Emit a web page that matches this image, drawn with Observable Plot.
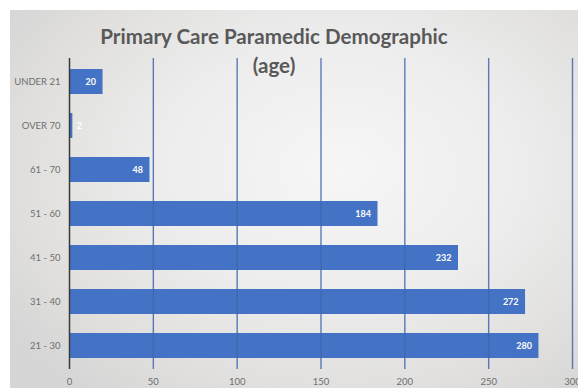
<!DOCTYPE html>
<html>
<head>
<meta charset="utf-8">
<script src="https://cdn.jsdelivr.net/npm/d3@7"></script>
<script src="https://cdn.jsdelivr.net/npm/@observablehq/plot@0.6"></script>
<style>
  html, body { margin: 0; padding: 0; background: #fff; }
  #wrap { position: relative; width: 578px; height: 388px; overflow: hidden; }
  #panel {
    position: absolute; left: 10px; top: 10px; right: 0; bottom: 0;
    background: radial-gradient(ellipse 70% 75% at 58% 42%, #f6f6f6 0%, #ededed 45%, #e0dfdd 80%, #d6d6d6 100%);
  }
  #chart { position: absolute; left: 0; top: 0; }
</style>
</head>
<body>
<div id="wrap"><div id="panel"></div><div id="chart"></div></div>
<script>
// Age groups, top to bottom, and the number of paramedics in each
const ageGroups = ["UNDER 21", "OVER 70", "61 - 70", "51 - 60", "41 - 50", "31 - 40", "21 - 30"];
const counts = [20, 2, 48, 184, 232, 272, 280];
const xTicks = [0, 50, 100, 150, 200, 250, 300];
const gridTicks = [50, 100, 150, 200, 250, 300];
const titleText = "Primary Care Paramedic Demographic\n(age)";

const rows = ageGroups.map((age, i) => ({age, count: counts[i]}));

const chart = Plot.plot({
  width: 578,
  height: 388,
  marginLeft: 69,
  marginRight: 6,
  marginTop: 58,
  marginBottom: 19,
  style: {background: "transparent", fontFamily: "Lato, 'Liberation Sans', sans-serif", fontSize: "9.5px", color: "#6e6e6e"},
  x: {domain: [0, 300], ticks: xTicks, tickSize: 0, tickPadding: 9, label: null},
  y: {domain: ageGroups, paddingInner: 0.43, paddingOuter: 0.2, tickSize: 0, tickPadding: 9, label: null},
  marks: [
    Plot.barX(rows, {x: "count", y: "age", fill: "#4472c4"}),
    Plot.ruleX(gridTicks, {stroke: "#3f66ad", strokeWidth: 1.4, strokeOpacity: 0.85}),
    Plot.ruleX([0], {stroke: "#3a3a3a", strokeWidth: 1.5}),
    Plot.text(rows.filter(d => d.count >= 10), {
      x: "count", y: "age", text: d => String(d.count),
      textAnchor: "end", dx: -7, fill: "white", fontWeight: "bold", fontSize: 9
    }),
    Plot.text(rows.filter(d => d.count < 10), {
      x: "count", y: "age", text: d => String(d.count),
      textAnchor: "start", dx: 4, fill: "white", fontWeight: "bold", fontSize: 9
    }),
    Plot.text([titleText], {
      frameAnchor: "top", lineAnchor: "middle", dx: -47, dy: -9, lineHeight: 1.41,
      fontSize: 20.6, fontWeight: "bold", fill: "#595959"
    })
  ]
});
document.getElementById("chart").appendChild(chart);
</script>
</body>
</html>
